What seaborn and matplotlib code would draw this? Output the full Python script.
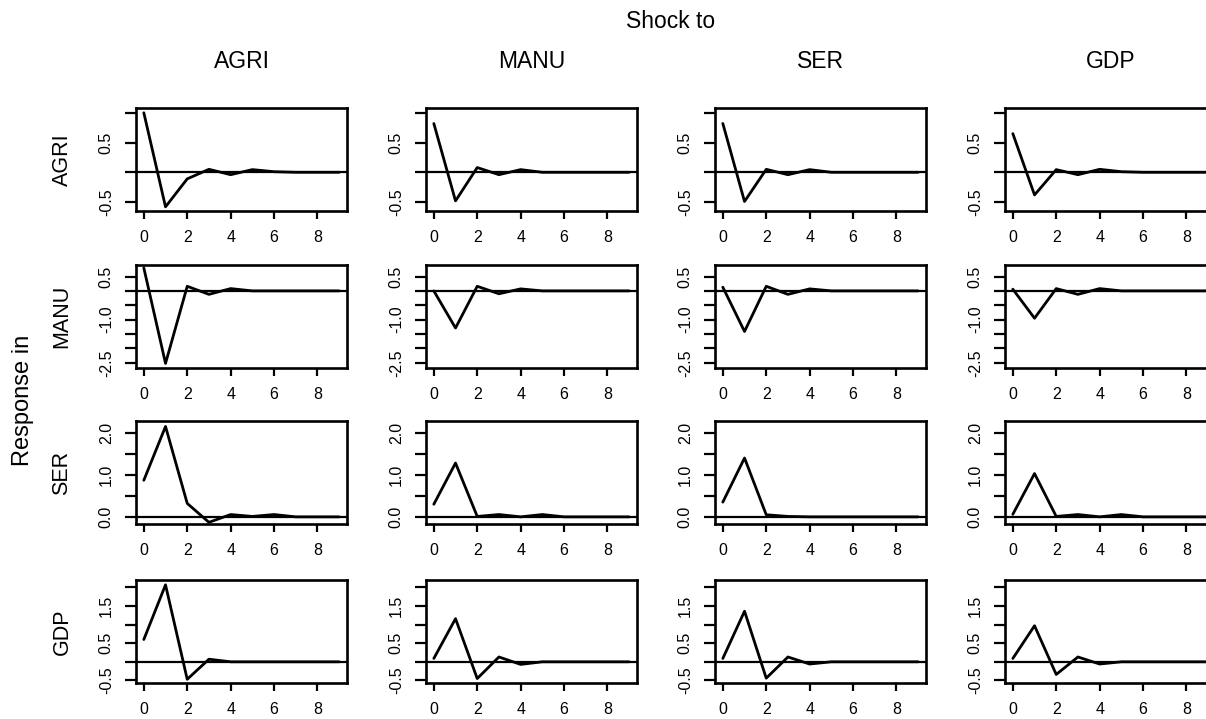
import matplotlib
matplotlib.use("Agg")
import matplotlib.pyplot as plt
import seaborn as sns
import numpy as np
import pandas as pd

sns.set_style("white")
plt.rcParams['font.family'] = ['Liberation Sans', 'DejaVu Sans']
plt.rcParams['text.color'] = 'black'
plt.rcParams['xtick.color'] = 'black'
plt.rcParams['ytick.color'] = 'black'
plt.rcParams['axes.labelcolor'] = 'black'

# ---------------- data ----------------
variables = ["AGRI", "MANU", "SER", "GDP"]
horizon = [0, 1, 2, 3, 4, 5, 6, 7, 8, 9]

# response of AGRI to shocks in AGRI, MANU, SER, GDP
agri_from_agri = [1.00, -0.58, -0.11, 0.05, -0.04, 0.045, 0.01, 0.0, 0.0, 0.0]
agri_from_manu = [0.82, -0.48, 0.08, -0.04, 0.045, 0.0, 0.0, 0.0, 0.0, 0.0]
agri_from_ser = [0.82, -0.49, 0.05, -0.04, 0.045, 0.0, 0.0, 0.0, 0.0, 0.0]
agri_from_gdp = [0.65, -0.38, 0.045, -0.04, 0.05, 0.01, 0.0, 0.0, 0.0, 0.0]

# response of MANU
manu_from_agri = [0.80, -2.52, 0.16, -0.12, 0.08, 0.0, 0.0, 0.0, 0.0, 0.0]
manu_from_manu = [0.0, -1.29, 0.16, -0.10, 0.07, 0.0, 0.0, 0.0, 0.0, 0.0]
manu_from_ser = [0.13, -1.41, 0.16, -0.12, 0.07, 0.0, 0.0, 0.0, 0.0, 0.0]
manu_from_gdp = [0.06, -0.95, 0.08, -0.12, 0.08, 0.0, 0.0, 0.0, 0.0, 0.0]

# response of SER
ser_from_agri = [0.87, 2.15, 0.32, -0.13, 0.055, 0.01, 0.055, 0.0, 0.0, 0.0]
ser_from_manu = [0.30, 1.28, 0.01, 0.055, 0.0, 0.055, 0.0, 0.0, 0.0, 0.0]
ser_from_ser = [0.35, 1.40, 0.05, 0.01, 0.0, 0.0, 0.0, 0.0, 0.0, 0.0]
ser_from_gdp = [0.06, 1.03, 0.01, 0.055, 0.0, 0.055, 0.0, 0.0, 0.0, 0.0]

# response of GDP
gdp_from_agri = [0.60, 2.07, -0.47, 0.07, 0.0, 0.0, 0.0, 0.0, 0.0, 0.0]
gdp_from_manu = [0.09, 1.16, -0.45, 0.13, -0.07, 0.0, 0.0, 0.0, 0.0, 0.0]
gdp_from_ser = [0.09, 1.36, -0.44, 0.13, -0.06, 0.0, 0.0, 0.0, 0.0, 0.0]
gdp_from_gdp = [0.09, 0.97, -0.34, 0.13, -0.06, 0.0, 0.0, 0.0, 0.0, 0.0]

responses = {
    "AGRI": [agri_from_agri, agri_from_manu, agri_from_ser, agri_from_gdp],
    "MANU": [manu_from_agri, manu_from_manu, manu_from_ser, manu_from_gdp],
    "SER": [ser_from_agri, ser_from_manu, ser_from_ser, ser_from_gdp],
    "GDP": [gdp_from_agri, gdp_from_manu, gdp_from_ser, gdp_from_gdp],
}

x_ticks = [0, 2, 4, 6, 8]
row_ylims = {"AGRI": (-0.65, 1.08), "MANU": (-2.68, 0.90),
             "SER": (-0.17, 2.28), "GDP": (-0.57, 2.20)}
row_yticks = {
    "AGRI": [-0.5, 0.0, 0.5, 1.0],
    "MANU": [-2.5, -2.0, -1.5, -1.0, -0.5, 0.0, 0.5],
    "SER": [0.0, 0.5, 1.0, 1.5, 2.0],
    "GDP": [-0.5, 0.0, 0.5, 1.0, 1.5, 2.0],
}
row_yticklabels = {
    "AGRI": ["-0.5", "", "0.5", ""],
    "MANU": ["-2.5", "", "", "-1.0", "", "", "0.5"],
    "SER": ["0.0", "", "1.0", "", "2.0"],
    "GDP": ["-0.5", "", "0.5", "", "1.5", ""],
}

# ---------------- layout ----------------
W, H = 1206, 719
fig = plt.figure(figsize=(W / 100, H / 100), dpi=100)

col_left = [136, 426, 715, 1005]
col_w = 211
row_top = [108, 265, 421, 580]
row_h = 103

for i, rv in enumerate(variables):
    for j, sv in enumerate(variables):
        l, t = col_left[j], row_top[i]
        ax = fig.add_axes([l / W, 1 - (t + row_h) / H, col_w / W, row_h / H])
        df = pd.DataFrame({"h": horizon, "v": responses[rv][j]})
        sns.lineplot(data=df, x="h", y="v", ax=ax, color="black",
                     linewidth=2.0)
        ax.axhline(0, color="black", linewidth=1.6)
        ax.set_xlim(-0.36, 9.36)
        ax.set_ylim(*row_ylims[rv])
        ax.set_xticks(x_ticks)
        ax.set_xticklabels([str(v) for v in x_ticks])
        ax.set_yticks(row_yticks[rv])
        ax.set_yticklabels(row_yticklabels[rv], rotation=90, va="center")
        ax.set_xlabel("")
        ax.set_ylabel("")
        ax.tick_params(axis="x", direction="out", length=6, width=1.6,
                       pad=8, labelsize=11.5, colors="black", bottom=True)
        ax.tick_params(axis="y", direction="out", length=8, width=1.6,
                       pad=8, labelsize=11.5, colors="black", left=True)
        for s in ax.spines.values():
            s.set_linewidth(1.9)
            s.set_color("black")
            s.set_visible(True)
        ax.grid(False)

# column titles
for j, sv in enumerate(variables):
    cx = col_left[j] + col_w / 2
    fig.text(cx / W, 1 - 62 / H, sv, ha="center", va="center", fontsize=16.5,
             color="black")

fig.text(671 / W, 1 - 28 / H, "Shock to", ha="center", va="baseline",
         fontsize=16.5, color="black")

# row labels
for i, rv in enumerate(variables):
    cy = row_top[i] + row_h / 2
    fig.text(62 / W, 1 - cy / H, rv, ha="center", va="center",
             rotation=90, fontsize=15.5, color="black")

fig.text(23 / W, 1 - 400 / H, "Response in", ha="center", va="center",
         rotation=90, fontsize=17, color="black")

fig.savefig("out.png", dpi=100, facecolor="white")
